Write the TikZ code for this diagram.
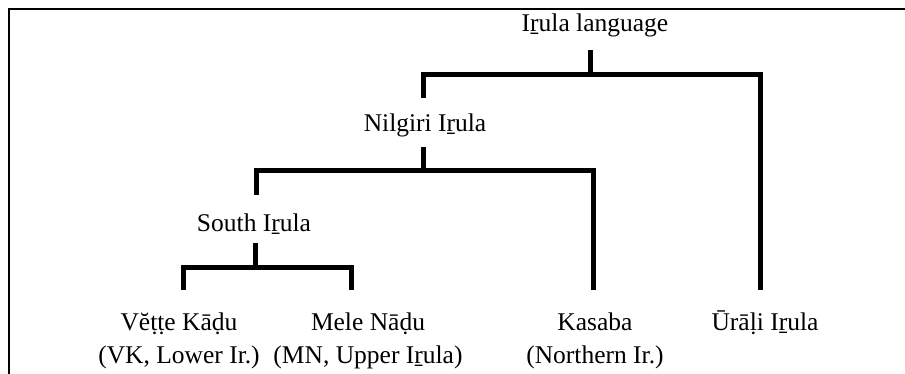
\documentclass[tikz,border=0pt]{standalone}
\usepackage{fontspec}
\setmainfont{Liberation Serif}
\begin{document}
\begin{tikzpicture}[x=1pt,y=-1pt,
  lbl/.style={font=\fontsize{25.5}{30}\selectfont, inner sep=0pt, anchor=base},
  br/.style={line width=5pt, line join=miter, line cap=butt},
  frame/.style={line width=1.6pt}]
\useasboundingbox (0,0) rectangle (905,374);
\coordinate (fr1) at (905,8.8);
\coordinate (fr2) at (8.8,8.8);
\coordinate (fr3) at (8.8,374);
\draw[frame] (fr1) -- (fr2) -- (fr3);
% labels
\node[lbl] (root) at (595,32) {Iṟula language};
\node[lbl] (nil) at (425,132) {Nilgiri Iṟula};
\node[lbl] (south) at (254,232) {South Iṟula};
\node[lbl] (vk) at (179,330) {Vĕṭṭe Kāḍu};
\node[lbl] (vk2) at (179,363) {(VK, Lower Ir.)};
\node[lbl] (mn) at (368,330) {Mele Nāḍu};
\node[lbl] (mn2) at (368,363) {(MN, Upper Iṟula)};
\node[lbl] (ks) at (595,330) {Kasaba};
\node[lbl] (ks2) at (595,363) {(Northern Ir.)};
\node[lbl] (ur) at (765,330) {Ūrāḷi Iṟula};
% junction coordinates
\coordinate (rootT) at (590,50);
\coordinate (rootJ) at (590,74.5);
\coordinate (nilB) at (423,98);
\coordinate (urB) at (760,290);
\coordinate (nilT) at (423,147);
\coordinate (nilJ) at (423,170.5);
\coordinate (southB) at (256,195);
\coordinate (ksB) at (593,290);
\coordinate (southT) at (255,243);
\coordinate (southJ) at (255,267);
\coordinate (vkB) at (183.5,290);
\coordinate (mnB) at (351.5,290);
% branches
\draw[br] (rootT) -- (rootJ);
\draw[br] (nilB) |- (rootJ) -| (urB);
\draw[br] (nilT) -- (nilJ);
\draw[br] (southB) |- (nilJ) -| (ksB);
\draw[br] (southT) -- (southJ);
\draw[br] (vkB) |- (southJ) -| (mnB);
\end{tikzpicture}
\end{document}
